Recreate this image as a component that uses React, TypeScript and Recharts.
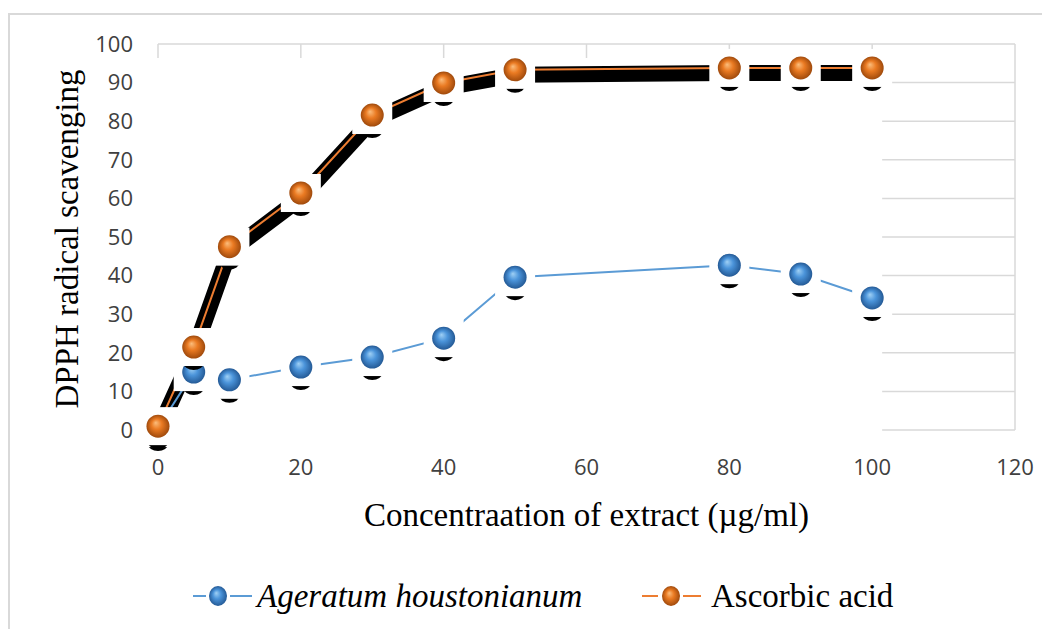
import React from 'react';
import { LineChart, Line, XAxis, YAxis, CartesianGrid, ReferenceArea } from 'recharts';

const concentrations = [0, 5, 10, 20, 30, 40, 50, 80, 90, 100];
const ageratumValues = [0.5, 15, 13, 16.3, 18.9, 23.8, 39.6, 42.7, 40.4, 34.2];
const ascorbicValues = [1, 21.5, 47.5, 61.4, 81.6, 89.9, 93.3, 93.8, 93.8, 93.8];
const xTicks = [0, 20, 40, 60, 80, 100, 120];
const yTicks = [0, 10, 20, 30, 40, 50, 60, 70, 80, 90, 100];

const chartData = concentrations.map((c, i) => ({
    conc: c,
    ageratum: ageratumValues[i],
    ascorbic: ascorbicValues[i],
}));

const SERIF = '"Liberation Serif", "Times New Roman", serif';
const TICK_FONT = '"Open Sans", sans-serif';

const makeDot = (gradId: string) => (props: any) => {
    const { cx, cy, index } = props;
    if (cx == null || cy == null) return <g key={index} />;
    return (
        <g key={`${gradId}-${index}`}>
            <ellipse cx={cx} cy={cy + 16} rx={10} ry={7} fill="#000" />
            <rect x={cx - 20} y={cy - 19} width={40} height={38} fill="#fff" />
            <circle cx={cx} cy={cy} r={11.5} fill={`url(#${gradId})`} />
        </g>
    );
};

const YTitle = ({ viewBox }: any) => {
    const cx = viewBox.x - 30;
    const cy = 231;
    return (
        <text x={cx} y={cy} transform={`rotate(-90 ${cx} ${cy})`} textAnchor="middle"
            fontFamily={SERIF} fontSize={33} fill="#000">
            DPPH radical scavenging
        </text>
    );
};

const XTitle = ({ viewBox }: any) => (
    <text x={viewBox.x + viewBox.width / 2} y={518} textAnchor="middle"
        fontFamily={SERIF} fontSize={33} fill="#000">
        Concentraation of extract (µg/ml)
    </text>
);

const Sphere = ({ x, y, grad }: { x: number; y: number; grad: string }) => (
    <ellipse cx={x} cy={y} rx={9} ry={10} fill={`url(#${grad})`} />
);

export default function App() {
    return (
        <div style={{ position: 'relative', width: 1042, height: 621 }}>
            <style>{`body { overflow: hidden; } .shadow-band path { transform: translateY(5px); }`}</style>
            <div style={{ position: 'absolute', left: 0, top: 5, width: 1050, height: 640, borderTop: '2px solid #d9d9d9', borderLeft: '2px solid #d9d9d9' }} />
            <div style={{ position: 'absolute', left: 0, top: 0 }}>
                <LineChart width={1042} height={616} data={chartData}
                    margin={{ top: 36, right: 35, left: 100, bottom: 84 }}>
                    <defs>
                        <radialGradient id="blueBall" cx="50%" cy="50%" r="50%" fx="40%" fy="35%">
                            <stop offset="0%" stopColor="#9fd0f5" />
                            <stop offset="45%" stopColor="#4b94da" />
                            <stop offset="100%" stopColor="#245a96" />
                        </radialGradient>
                        <radialGradient id="orangeBall" cx="50%" cy="50%" r="50%" fx="40%" fy="35%">
                            <stop offset="0%" stopColor="#fbbd7c" />
                            <stop offset="45%" stopColor="#ea7a22" />
                            <stop offset="100%" stopColor="#a04a0c" />
                        </radialGradient>
                    </defs>
                    <CartesianGrid stroke="#d9d9d9" strokeWidth={1.5} horizontalValues={yTicks} verticalValues={xTicks} />
                    <XAxis type="number" dataKey="conc" domain={[0, 120]} ticks={xTicks}
                        axisLine={false} tickLine={false} tickSize={0} tickMargin={29} height={110}
                        tick={{ fontFamily: TICK_FONT, fontSize: 22, fill: '#404040' }}
                        label={<XTitle />} />
                    <YAxis type="number" domain={[0, 100]} ticks={yTicks} width={50}
                        axisLine={false} tickLine={false} tickSize={0} tickMargin={25}
                        tick={{ fontFamily: TICK_FONT, fontSize: 22, fill: '#404040' }}
                        label={<YTitle />} />
                    <ReferenceArea x1={-2} x2={101.4} y1={-3} y2={96.4} fill="#fff" fillOpacity={1}
                        stroke="none" ifOverflow="visible" />
                    <Line className="shadow-band" type="linear" dataKey="ascorbic" stroke="#000"
                        strokeWidth={16} dot={false} activeDot={false} isAnimationActive={false}
                        strokeLinejoin="miter" legendType="none" />
                    <Line type="linear" dataKey="ageratum" stroke="#5b9bd5" strokeWidth={2}
                        dot={makeDot('blueBall')} activeDot={false} isAnimationActive={false} />
                    <Line type="linear" dataKey="ascorbic" stroke="#ed7d31" strokeWidth={2}
                        dot={makeDot('orangeBall')} activeDot={false} isAnimationActive={false} />
                </LineChart>
            </div>
            <svg style={{ position: 'absolute', left: 0, top: 0 }} width={1042} height={621}>
                <line x1={185} y1={588} x2={198} y2={588} stroke="#5b9bd5" strokeWidth={2} />
                <line x1={222} y1={588} x2={244} y2={588} stroke="#5b9bd5" strokeWidth={2} />
                <Sphere x={210} y={588} grad="blueBall" />
                <text x={249} y={599} fontFamily={SERIF} fontStyle="italic" fontSize={33} fill="#000">
                    Ageratum houstonianum
                </text>
                <line x1={634} y1={588} x2={650} y2={588} stroke="#ed7d31" strokeWidth={2} />
                <line x1={675} y1={588} x2={693} y2={588} stroke="#ed7d31" strokeWidth={2} />
                <Sphere x={663} y={588} grad="orangeBall" />
                <text x={703} y={599} fontFamily={SERIF} fontSize={33} fill="#000">
                    Ascorbic acid
                </text>
            </svg>
        </div>
    );
}
